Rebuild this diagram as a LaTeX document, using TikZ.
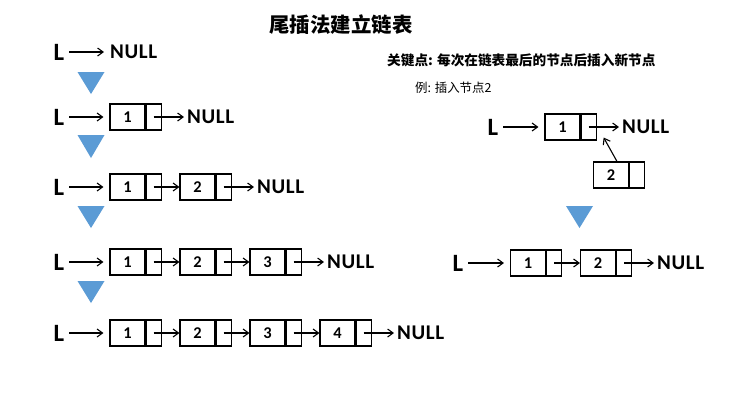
\documentclass[tikz,border=0pt]{standalone}
\usepackage{fontspec}
\setmainfont{Carlito}
\newfontfamily\cjkfont{Noto Sans CJK SC}
\usetikzlibrary{arrows.meta,calc}
\definecolor{triblue}{HTML}{5B9BD5}

\tikzset{
  lab/.style={font=\bfseries\fontsize{25}{25}\selectfont, inner sep=0pt},
  nulllab/.style={inner sep=0pt, anchor=west, font=\bfseries\fontsize{21}{21}\selectfont\addfontfeatures{LetterSpace=3}},
  datafield/.style={draw, line width=1.1pt, minimum width=35bp, minimum height=26bp,
    inner sep=0pt, font=\bfseries\fontsize{16.5}{16.5}\selectfont},
  ptrfield/.style={draw, line width=1.1pt, minimum width=15bp, minimum height=26bp,
    inner sep=0pt, anchor=west},
  link/.style={-{Straight Barb[length=5.5bp,width=8bp]}, line width=1.1pt},
  headlink/.style={link, shorten <=5bp, shorten >=6bp},
  nulllink/.style={link, shorten >=3bp},
}

% list node: data field #1 centred at #2 with value #3, pointer field #1p
\newcommand\listnode[3]{%
  \node[datafield] (#1) at (#2) {#3};
  \node[ptrfield] (#1p) at (#1.east) {};
}
% blue down-pointing marker centred at x=#1, from y=#2 to y=#3
\newcommand\downmark[3]{%
  \fill[triblue] (#1-13.5,#2) -- (#1+13.5,#2) -- (#1,#3) -- cycle;
}

\begin{document}
\begin{tikzpicture}[x=1bp,y=-1bp]
\useasboundingbox[fill=white] (0,0) rectangle (730,412);

% title and notes
\node[font=\cjkfont\bfseries\fontsize{20.5}{20.5}\selectfont] (title) at (341,25) {尾插法建立链表};
\node[anchor=west, inner sep=0pt, font=\cjkfont\bfseries\fontsize{13.7}{13.7}\selectfont] (key) at (387,60)
  {关键点: 每次在链表最后的节点后插入新节点};
\node[anchor=west, inner sep=0pt, font=\cjkfont\fontsize{12.5}{12.5}\selectfont] (example) at (415,88)
  {例: 插入节点2};

% row 1: empty list
\node[lab] (La) at (59,52) {L};
\node[nulllab] (Na) at (110,52) {NULL};
\draw[headlink] (La) -- (Na);
\downmark{91}{72}{94}

% row 2
\node[lab] (Lb) at (59,117) {L};
\listnode{b1}{127.5,117}{1}
\node[nulllab] (Nb) at (187,117) {NULL};
\draw[headlink] (Lb) -- (b1);
\draw[nulllink] (b1p.center) -- (Nb);
\downmark{91}{135}{158}

% row 3
\node[lab] (Lc) at (59,187) {L};
\listnode{c1}{127.5,187}{1}
\listnode{c2}{197.5,187}{2}
\node[nulllab] (Nc) at (257,187) {NULL};
\draw[headlink] (Lc) -- (c1);
\draw[link] (c1p.center) -- (c2);
\draw[nulllink] (c2p.center) -- (Nc);
\downmark{91}{206}{228}

% row 4
\node[lab] (Ld) at (59,262) {L};
\listnode{d1}{127.5,262}{1}
\listnode{d2}{197.5,262}{2}
\listnode{d3}{267.5,262}{3}
\node[nulllab] (Nd) at (327,262) {NULL};
\draw[headlink] (Ld) -- (d1);
\draw[link] (d1p.center) -- (d2);
\draw[link] (d2p.center) -- (d3);
\draw[nulllink] (d3p.center) -- (Nd);
\downmark{91}{281}{303}

% row 5
\node[lab] (Le) at (59,333) {L};
\listnode{e1}{127.5,333}{1}
\listnode{e2}{197.5,333}{2}
\listnode{e3}{267.5,333}{3}
\listnode{e4}{337.5,333}{4}
\node[nulllab] (Ne) at (397,333) {NULL};
\draw[headlink] (Le) -- (e1);
\draw[link] (e1p.center) -- (e2);
\draw[link] (e2p.center) -- (e3);
\draw[link] (e3p.center) -- (e4);
\draw[nulllink] (e4p.center) -- (Ne);

% example: inserting node 2 after the last node
\node[lab] (Lf) at (493,127) {L};
\listnode{f1}{562.5,127}{1}
\node[nulllab] (Nf) at (622,127) {NULL};
\draw[headlink] (Lf) -- (f1);
\draw[nulllink] (f1p.center) -- (Nf);
\listnode{g2}{611,175}{2}
\coordinate (gtip) at ($(f1p.south east)+(7,-3)$);
\draw[link] ($(g2.north)+(6,0)$) -- (gtip);
\downmark{579.5}{206}{228}

\node[lab] (Lh) at (458,263) {L};
\listnode{h1}{528,263}{1}
\listnode{h2}{598,263}{2}
\node[nulllab] (Nh) at (657,263) {NULL};
\draw[headlink] (Lh) -- (h1);
\draw[link] (h1p.center) -- (h2);
\draw[nulllink] (h2p.center) -- (Nh);
\end{tikzpicture}
\end{document}
